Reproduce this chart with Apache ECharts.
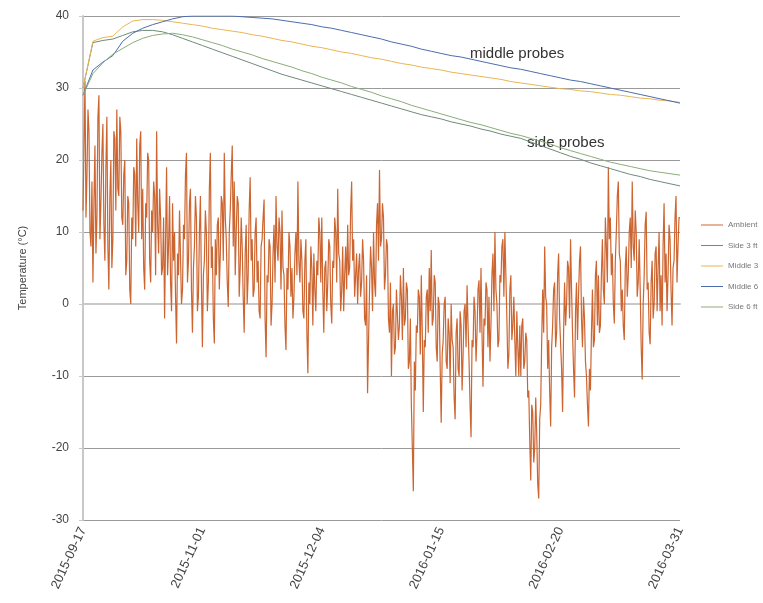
<!DOCTYPE html>
<html>
<head>
<meta charset="utf-8">
<script src="https://cdn.jsdelivr.net/npm/echarts@6/dist/echarts.min.js"></script>
<style>
  html, body { margin: 0; padding: 0; background: #fff; }
  #chart { width: 763px; height: 603px; }
</style>
</head>
<body>
<div id="chart"></div>
<script>
// Sample-index ticks and their date labels
const tickLabels = ['2015-09-17', '2015-11-01', '2015-12-04', '2016-01-15', '2016-02-20', '2016-03-31'];
const lastSample = 600;
const probeStep = 10;

// Ambient air temperature (°C), one value per sample
const ambient = [
  13, 22, 31, 12, 18, 27, 24, 10, 8, 17, 3, 14, 22, 7, 12, 26, 29, 9, 14, 21,
  25, 11, 6, 19, 26, 8, 2, 15, 20, 5, 9, 24, 23, 13, 27, 16, 15, 26, 24, 12,
  11, 18, 20, 4, 6, 15, 14, 2, 0, 12, 9, 19, 18, 8, 23, 14, 10, 22, 24, 9,
  16, 5, 2, 14, 12, 21, 20, 6, 3, 13, 10, 17, 15, 4, 24, 11, 7, 16, 12, 4,
  5, 12, -2, 9, 19, 4, 8, 15, 3, -1, 14, 6, 10, 1, -5.5, 7, 4, 13, 13, 0,
  2, 11, 9, 18, 21, 3, 6, 14, 16, 2, -4, 5, 8, 15, 12, -1, 1, 10, 15, 3,
  -6, 4, 6, 13, 10, -1, 3, 16, 21, 5, 8, -2, -5.5, 9, 4, 11, 12, 2, 7, 15,
  14, 6, 21, 12, 9, 3, -0.4, 10, 13, 18, 22, 8, 17, 4, 10, 15, 14, 1, 5, 12,
  8, 1, -4, 7, 11, 0, 4, 13, 17.6, 6, 9, 1, 2, 10, 12, 3, 6, -1, -2, 8,
  9, 12, 14.5, -2, -7.4, 4, 3, 9, 8, -3, 0, 7, 11, 3, 15, 8, 6, 12, 10, 2,
  13, 5, 4, -3, -6.4, 5, 2, 10, 8, 1, 5, -2, 1, 7, 10, 4, 17, 6, 3, 9,
  6, -1, -2, 6, 9, -4, -9.6, 3, 0, 8, 5, -3, 7, 2, -1, 6, 4, 12, 10, 3,
  12, 2, -4, 5, 6, -1, 3, 9, 8, 0, -2.7, 6, 5, 12, 10, 3, 16, 7, 6, -1,
  2, 8, -1, 4, 8, 2, 11, 4, 5, 13, 17, 6, 9, 1, 4, 7, 0, 5, 7, 1,
  3, 9, 6, -2, -3, 4, -12.4, -5, 2, 8, 5, -1, 10, 3, 1, 11, 14, 6, 18.6, 8,
  9, 14, 12, 2, 4, 9, 8, -2, -4, 3, -10, -1, 0, -7, -6, 2, 2, -5, -3, 4,
  1, -5, 5, -3, -2, 3, 2, -9, -8, -2, -14, -20, -26, -8, -12, -3, -4, 2, 1, -7,
  4, -4, -15, -5, -6, 1, 2, -4, 5, -1, 7.5, -3, -2, 4, 3, -6, -8, 1, 0, -9,
  -16.5, -7, -5, 0, 1, -8, -9, -2, -4, -11, 0, -5, -6, -13, -16, -4, -2, -9, -10, -1,
  -3, -12, -7, -1, 0, -6, 2.6, -3, -8, -14, -18.5, -5, -6, 1, -1, -8, -4, 2, 3.3, -4,
  5, -4, -11.5, -2, -3, 3, 2, -6, 1, -8, -3, 4, 7, -1, 10, 2, 0, -6, -5, 4,
  3, 8, 9, 1, 10, 4, -2, -9, -7, 2, 4, -5, -3, 1, -5, -10, -1, -6, -10, -3,
  -10, -3, -2, -9, -8, -4, -5, -13, -12, -19, -24.5, -14, -15, -22, -20, -13, -18, -25, -27, -16,
  -14, -5, 2, -4, 8, 1, 0, -9, -5, -12, -17, -6, -3, 2, 3, -6, -4, 4, 7, -2,
  -2, -9, -15, -4, 3, -3, 0, 6, 5, -2, 9, 2, -4, -9, -13, -1, 3, -5, 1, 6,
  8, -2, -6, 1, -2, -8, -10, -14, -17, -9, -12, -4, 2, -6, -5, 4, 6, -3, 4, -4,
  -3, 4, 9, 2, 0, 12, 8, 3, 19, 9, 12, 4, 7, 0, -2.7, 6, 10, 15, 17, 7,
  6, -1, 2, -3, -5, 5, 8, 1, 4, 10, 12, 5, 17, 8, 6, 13, 10, 1, 3, 9,
  2, -6, -10.5, 0, 4, 11, 12.8, 2, 3, -4, -5.6, 3, 6, -2, 0, 7, 8, -1, 5, 10,
  -1, 4, -3, 8, 14, 3, 7, -1, 4, 11, 9, 2, -3, 5, 6, 12, 15, 3, 8, 12,
  12
];

// Probe temperatures (°C), one value every probeStep samples
const side3 = [
  30, 36.3, 36.6, 36.8, 37.3, 37.8, 38.0, 38.0, 37.8, 37.4,
  36.9, 36.4, 35.9, 35.4, 34.9, 34.4, 33.9, 33.4, 32.9, 32.4,
  31.9, 31.5, 31.1, 30.7, 30.3, 29.9, 29.5, 29.1, 28.7, 28.3,
  27.9, 27.5, 27.1, 26.7, 26.3, 26.0, 25.7, 25.3, 25.0, 24.7,
  24.3, 24.0, 23.6, 23.3, 23.0, 22.5, 22.0, 21.5, 21.0, 20.5,
  20.1, 19.6, 19.2, 18.8, 18.4, 18.0, 17.7, 17.3, 17.0, 16.7,
  16.4
];
const middle3 = [
  30, 36.5, 37.0, 37.2, 38.5, 39.3, 39.5, 39.5, 39.4, 39.2,
  39.0, 38.8, 38.6, 38.3, 38.1, 37.9, 37.7, 37.4, 37.2, 36.9,
  36.6, 36.4, 36.1, 35.8, 35.6, 35.3, 35.0, 34.8, 34.5, 34.2,
  34.0, 33.7, 33.4, 33.2, 32.9, 32.7, 32.5, 32.2, 32.0, 31.8,
  31.6, 31.4, 31.2, 30.9, 30.7, 30.5, 30.3, 30.1, 29.9, 29.8,
  29.6, 29.5, 29.3, 29.1, 29.0, 28.8, 28.6, 28.5, 28.3, 28.2,
  28.0
];
const middle6 = [
  29, 32.5, 33.6, 34.5, 36.5, 37.6, 38.3, 38.8, 39.2, 39.6,
  39.9, 40.0, 40.0, 40.0, 40.0, 40.0, 39.9, 39.8, 39.7, 39.6,
  39.4, 39.2, 39.0, 38.8, 38.5, 38.3, 38.0, 37.7, 37.4, 37.1,
  36.8, 36.4, 36.1, 35.8, 35.4, 35.1, 34.8, 34.5, 34.3, 34.0,
  33.7, 33.4, 33.1, 32.8, 32.6, 32.3, 32.0, 31.7, 31.4, 31.1,
  30.9, 30.6, 30.3, 30.0, 29.7, 29.4, 29.1, 28.8, 28.5, 28.2,
  27.9
];
const side6 = [
  29, 32.0, 33.5, 34.7, 35.5, 36.3, 36.9, 37.3, 37.5, 37.6,
  37.4, 37.1, 36.7, 36.3, 35.9, 35.4, 35.0, 34.6, 34.1, 33.7,
  33.3, 32.9, 32.4, 32.0, 31.5, 31.1, 30.7, 30.2, 29.8, 29.4,
  28.9, 28.5, 28.1, 27.6, 27.2, 26.8, 26.4, 26.0, 25.6, 25.2,
  24.9, 24.5, 24.1, 23.7, 23.4, 23.0, 22.6, 22.2, 21.7, 21.3,
  20.9, 20.5, 20.1, 19.7, 19.4, 19.1, 18.8, 18.5, 18.3, 18.1,
  17.9
];

const seriesNames = ['Ambient', 'Side 3 ft', 'Middle 3', 'Middle 6', 'Side 6 ft'];
const seriesColors = ['#cd6530', '#6f8a78', '#eab552', '#4d6cae', '#8aac78'];

const toPoints = (arr, step) => arr.map((v, i) => [i * step, v]);

const chart = echarts.init(document.getElementById('chart'), null, { renderer: 'canvas' });

const lineSeries = (name, data, color, z, width) => ({
  name, type: 'line', data, showSymbol: false, symbol: 'none',
  lineStyle: { color, width }, itemStyle: { color }, z, animation: false
});

const FONT = 'Liberation Sans, Arial, sans-serif';

chart.setOption({
  animation: false,
  textStyle: { fontFamily: FONT },
  grid: { left: 83, right: 83, top: 16, bottom: 83, containLabel: false },
  legend: {
    orient: 'vertical', left: 696, top: 216, itemGap: 12.5,
    icon: 'rect', itemWidth: 22, itemHeight: 1,
    textStyle: { fontSize: 8, color: '#777' },
    data: seriesNames
  },
  xAxis: {
    type: 'value', min: 0, max: lastSample, interval: lastSample / 5,
    axisLine: { show: true, lineStyle: { color: '#c8c8c8', width: 2 } },
    axisTick: { show: false },
    splitLine: { show: false },
    axisLabel: {
      rotate: 65, fontSize: 13, color: '#444', margin: 8,
      formatter: v => tickLabels[Math.round(v / (lastSample / 5))] || ''
    }
  },
  yAxis: {
    type: 'value', min: -30, max: 40, interval: 10,
    name: 'Temperature (°C)', nameLocation: 'middle', nameGap: 55,
    nameTextStyle: { fontSize: 11, color: '#444' },
    axisLine: { show: true, lineStyle: { color: '#c8c8c8', width: 2 } },
    axisTick: { show: true, length: 4, lineStyle: { color: '#c8c8c8' } },
    axisLabel: { fontSize: 12, color: '#444', margin: 14 },
    splitLine: { show: true, lineStyle: { color: '#9a9a9a', width: 1 } }
  },
  series: [
    lineSeries(seriesNames[0], toPoints(ambient, 1), seriesColors[0], 2, 1.2),
    lineSeries(seriesNames[1], toPoints(side3, probeStep), seriesColors[1], 3, 1),
    lineSeries(seriesNames[2], toPoints(middle3, probeStep), seriesColors[2], 3, 1),
    lineSeries(seriesNames[3], toPoints(middle6, probeStep), seriesColors[3], 3, 1),
    lineSeries(seriesNames[4], toPoints(side6, probeStep), seriesColors[4], 3, 1)
  ],
  graphic: [
    { type: 'text', left: 470, top: 46, style: { text: 'middle probes', fontSize: 15, fill: '#333', fontFamily: FONT } },
    { type: 'text', left: 527, top: 135, style: { text: 'side probes', fontSize: 15, fill: '#333', fontFamily: FONT } }
  ]
});
</script>
</body>
</html>
